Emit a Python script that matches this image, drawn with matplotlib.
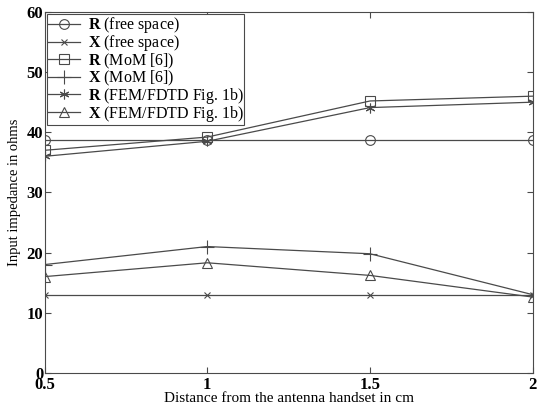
import matplotlib
matplotlib.use("Agg")
import matplotlib.pyplot as plt

plt.rcParams['font.family'] = ['Liberation Serif', 'DejaVu Serif']
plt.rcParams['mathtext.fontset'] = 'custom'
plt.rcParams['mathtext.rm'] = 'Liberation Serif'
plt.rcParams['mathtext.bf'] = 'Liberation Serif:bold'

# distance from handset (cm)
dist = [0.5, 1.0, 1.5, 2.0]

# input impedance (ohms)
r_free = [38.7, 38.7, 38.7, 38.7]
x_free = [13.0, 13.0, 13.0, 13.0]
r_mom = [37.0, 39.2, 45.2, 46.0]
x_mom = [18.0, 21.0, 19.8, 13.0]
r_fem = [36.0, 38.5, 44.1, 45.0]
x_fem = [16.0, 18.3, 16.2, 12.6]

labels = [r'$\mathbf{R}$ (free space)', r'$\mathbf{X}$ (free space)',
          r'$\mathbf{R}$ (MoM [6])', r'$\mathbf{X}$ (MoM [6])',
          r'$\mathbf{R}$ (FEM/FDTD Fig. 1b)', r'$\mathbf{X}$ (FEM/FDTD Fig. 1b)']

fig = plt.figure(figsize=(5.37, 4.12), dpi=100)
ax = fig.add_axes([0.083, 0.095, 0.909, 0.876])

col = '#4a4a4a'
series = [r_free, x_free, r_mom, x_mom, r_fem, x_fem]
markers = ['o', 'x', 's', '+', (6, 2, 0), '^']
sizes = [7, 5, 7, 10, 7, 7]
for ys, m, s, lab in zip(series, markers, sizes, labels):
    ax.plot(dist, ys, color=col, lw=0.9, marker=m, ms=s, mfc='none',
            mec=col, mew=0.8, label=lab)

ax.set_xlim(0.5, 2)
ax.set_ylim(0, 60)
ax.set_xticks([0.5, 1, 1.5, 2])
ax.set_xticklabels(['0.5', '1', '1.5', '2'])
ax.set_yticks(range(0, 61, 10))
ax.tick_params(direction='in', top=True, right=True, labelsize=12,
               length=4, color=col, pad=1)
ax.tick_params(axis='x', pad=3)
for t in ax.get_xticklabels() + ax.get_yticklabels():
    t.set_fontweight('bold')
for sp in ax.spines.values():
    sp.set_color(col)
ax.set_xlabel('Distance from the antenna handset in cm', fontsize=11, labelpad=-1)
ax.set_ylabel('Input impedance in ohms', fontsize=10.5, labelpad=4)

leg = ax.legend(loc='upper left', fontsize=11.5, fancybox=False, framealpha=1,
                edgecolor=col, borderaxespad=0.15, handlelength=2.0,
                handletextpad=0.5, labelspacing=-0.12, borderpad=0.05)
leg.get_frame().set_linewidth(0.8)

fig.savefig('out.png', dpi=100)
